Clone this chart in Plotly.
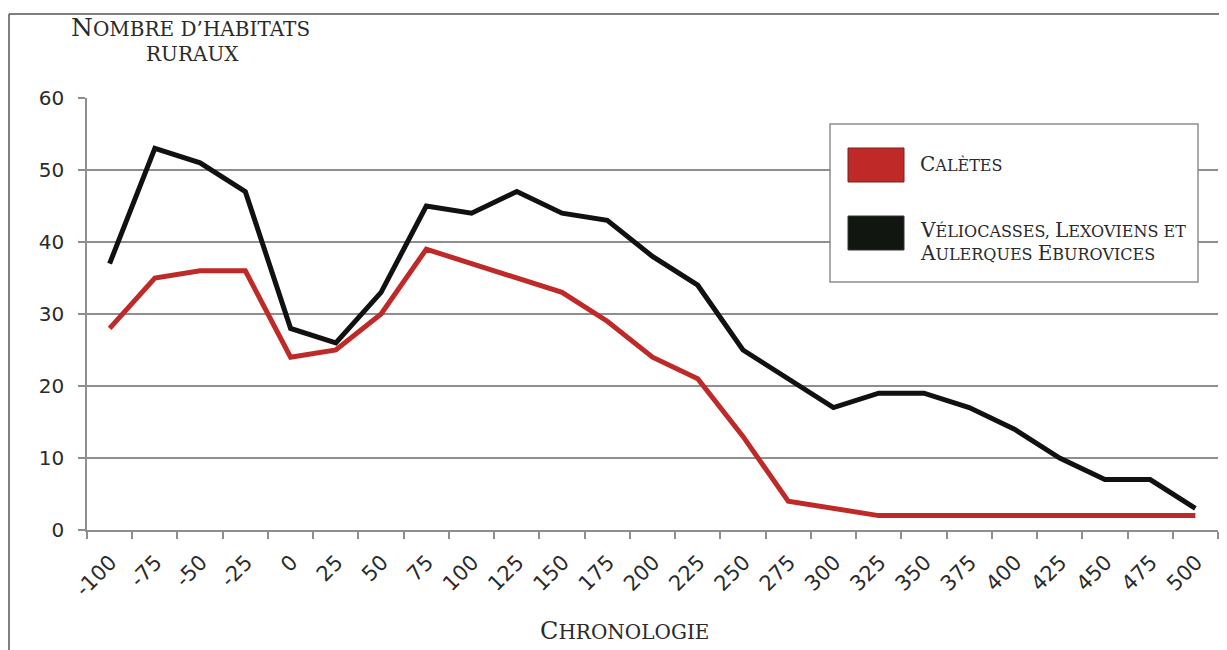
import plotly.graph_objects as go

categories = ["-100", "-75", "-50", "-25", "0", "25", "50", "75", "100", "125", "150", "175",
              "200", "225", "250", "275", "300", "325", "350", "375", "400", "425", "450", "475", "500"]
caletes = [28, 35, 36, 36, 24, 25, 30, 39, 37, 35, 33, 29, 24, 21, 13, 4, 3, 2, 2, 2, 2, 2, 2, 2, 2]
veliocasses = [37, 53, 51, 47, 28, 26, 33, 45, 44, 47, 44, 43, 38, 34, 25, 21, 17, 19, 19, 17, 14, 10, 7, 7, 3]
y_ticks = [0, 10, 20, 30, 40, 50, 60]

RED = "#bf2a29"
BLACK = "#111111"
GRAY = "#8e8e8e"
TXT = "#2a2a2a"

OFF = 8  # default body margin of the html page
W, H = 1227 - OFF, 650 - OFF
# plot area in screen pixels: x 87..1218, y 98..530
SL, SR, ST, SB = 87, 1218, 98, 530
L, T = SL - OFF, ST - OFF
R = W - (SR - OFF)
B = H - (SB - OFF)
PW, PH = W - L - R, H - T - B


def px(sx):
    return (sx - OFF - L) / PW


def py(sy):
    return (H - B - (sy - OFF)) / PH


def sc(text, big, small):
    """Small caps: uppercase initials big, other letters small (all uppercase)."""
    out = []
    for ch in text:
        if ch.isupper():
            out.append(f'<span style="font-size:{big}px">{ch}</span>')
        elif ch == " ":
            out.append(" ")
        else:
            out.append(f'<span style="font-size:{small}px">{ch.upper()}</span>')
    return "".join(out)


fig = go.Figure()
fig.add_trace(go.Scatter(x=categories, y=caletes, mode="lines", name="Calètes",
                         line=dict(color=RED, width=5), showlegend=False))
fig.add_trace(go.Scatter(x=categories, y=veliocasses, mode="lines",
                         name="Véliocasses, Lexoviens et Aulerques Eburovices",
                         line=dict(color=BLACK, width=5), showlegend=False))

shapes = [
    # outer frame (left and top)
    dict(type="line", xref="paper", yref="paper", x0=px(9), x1=px(9), y0=py(14), y1=py(650),
         line=dict(color="#555555", width=1.5)),
    dict(type="line", xref="paper", yref="paper", x0=px(9), x1=px(1227), y0=py(14), y1=py(14),
         line=dict(color="#555555", width=1.5)),
    # legend box
    dict(type="rect", xref="paper", yref="paper", x0=px(830), x1=px(1198), y0=py(282), y1=py(124),
         line=dict(color=GRAY, width=1.5), fillcolor="white", layer="above"),
    dict(type="rect", xref="paper", yref="paper", x0=px(848), x1=px(904), y0=py(182), y1=py(148),
         line=dict(color="#7a2020", width=1), fillcolor=RED, layer="above"),
    dict(type="rect", xref="paper", yref="paper", x0=px(848), x1=px(904), y0=py(250), y1=py(216),
         line=dict(color="#333333", width=1), fillcolor="#111611", layer="above"),
]

serif = "DejaVu Serif"
annotations = [
    dict(xref="paper", yref="paper", x=px(190), y=py(27), xanchor="center", yanchor="middle",
         showarrow=False, font=dict(family=serif, size=20, color=TXT),
         text=sc("Nombre d’habitats", 25, 20)),
    dict(xref="paper", yref="paper", x=px(192), y=py(54), xanchor="center", yanchor="middle",
         showarrow=False, font=dict(family=serif, size=20, color=TXT),
         text=sc("ruraux", 20, 20)),
    dict(xref="paper", yref="paper", x=px(624), y=py(631), xanchor="center", yanchor="middle",
         showarrow=False, font=dict(family=serif, size=20, color=TXT),
         text=sc("Chronologie", 24, 20)),
    dict(xref="paper", yref="paper", x=px(918), y=py(164), xanchor="left", yanchor="middle",
         showarrow=False, font=dict(family=serif, size=16, color=TXT),
         text=sc("Calètes", 20, 16)),
    dict(xref="paper", yref="paper", x=px(918), y=py(230), xanchor="left", yanchor="middle",
         showarrow=False, align="left", font=dict(family=serif, size=16, color=TXT),
         text=sc("Véliocasses, Lexoviens et", 20, 16)),
    dict(xref="paper", yref="paper", x=px(918), y=py(253), xanchor="left", yanchor="middle",
         showarrow=False, align="left", font=dict(family=serif, size=16, color=TXT),
         text=sc("Aulerques Eburovices", 20, 16)),
]

fig.update_layout(
    width=W, height=H,
    margin=dict(l=L, r=R, t=T, b=B, pad=0),
    paper_bgcolor="white", plot_bgcolor="white",
    showlegend=False,
    shapes=shapes, annotations=annotations,
    xaxis=dict(type="category", categoryorder="array", categoryarray=categories,
               range=[-0.5, len(categories) - 0.5],
               tickson="boundaries", ticks="outside", ticklen=7, tickwidth=1.5, tickcolor=GRAY,
               showline=True, linecolor=GRAY, linewidth=1.5, showgrid=False,
               tickangle=-45, ticklabelstandoff=10, ticklabelshift=1,
               tickfont=dict(family="DejaVu Sans", size=21, color=TXT)),
    yaxis=dict(range=[0, 60], tickvals=y_ticks, ticks="outside", ticklen=7, tickwidth=1.5,
               tickcolor=GRAY, showline=True, linecolor=GRAY, linewidth=1.5,
               showgrid=True, gridcolor=GRAY, gridwidth=1.5, zeroline=False,
               ticklabelstandoff=10,
               tickfont=dict(family="DejaVu Sans", size=20, color=TXT)),
)

fig.write_html("out.html")
